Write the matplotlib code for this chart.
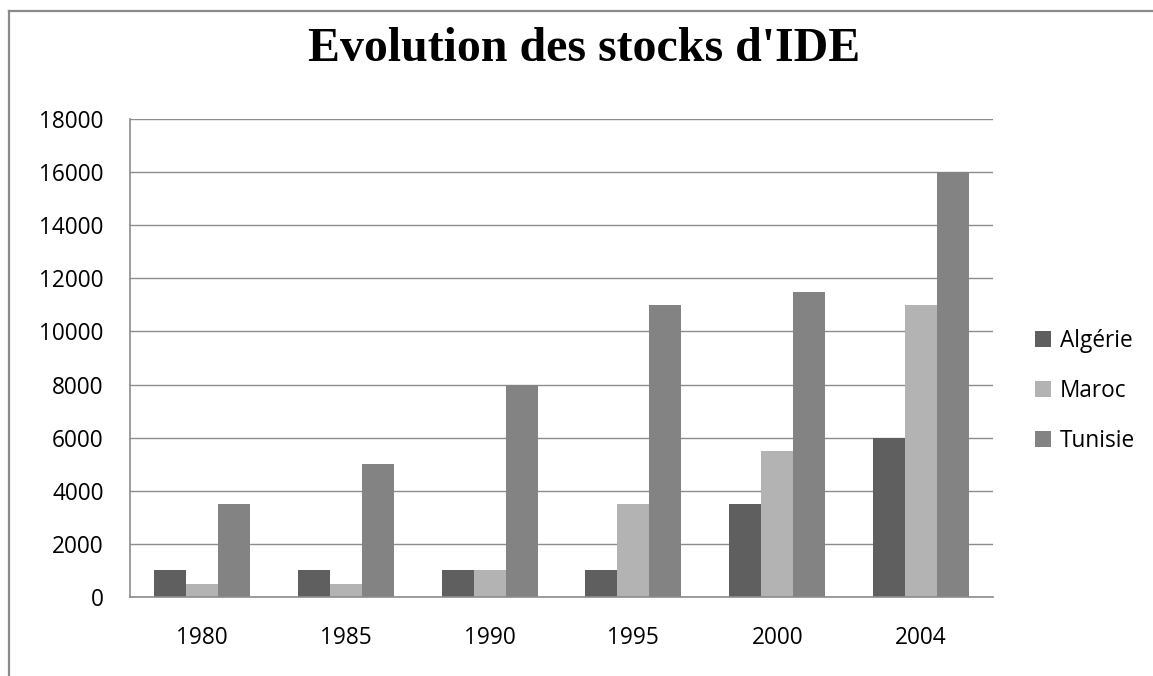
import matplotlib.pyplot as plt
from matplotlib.lines import Line2D
import numpy as np

years = ['1980', '1985', '1990', '1995', '2000', '2004']
algerie = [1000, 1000, 1000, 1000, 3500, 6000]
maroc = [500, 500, 1000, 3500, 5500, 11000]
tunisie = [3500, 5000, 8000, 11000, 11500, 16000]
series = ['Algérie', 'Maroc', 'Tunisie']
colors = ['#5f5f5f', '#b3b3b3', '#838383']

plt.rcParams['font.family'] = ['Open Sans', 'DejaVu Sans']

fig = plt.figure(figsize=(11.53, 6.76), dpi=100)
ax = fig.add_axes([130 / 1153, 79 / 676, 863 / 1153, 478 / 676])

x = np.arange(len(years))
w = 1 / 4.5
for i, (vals, name, c) in enumerate(zip([algerie, maroc, tunisie], series, colors)):
    ax.bar(x + (i - 1) * w, vals, width=w, color=c, label=name, zorder=2)

ax.set_xlim(-0.5, len(years) - 0.5)
ax.set_ylim(0, 18000)
ax.set_yticks(range(0, 18001, 2000))
ax.set_xticks(x)
ax.set_xticklabels(years)
ax.yaxis.grid(True, color='#8c8c8c', linewidth=1)
ax.set_axisbelow(True)
for s in ['top', 'right']:
    ax.spines[s].set_visible(False)
for s in ['left', 'bottom']:
    ax.spines[s].set_color('#8c8c8c')
    ax.spines[s].set_linewidth(1.2)
ax.tick_params(axis='y', length=0, pad=19, labelsize=16.3)
ax.tick_params(axis='x', length=0, pad=21, labelsize=16.3)

fig.text(584 / 1153, 1 - 49 / 676, "Evolution des stocks d'IDE", ha='center', va='center',
         fontsize=34.5, fontweight='bold', family='Liberation Serif')

leg = ax.legend(loc='center left', bbox_to_anchor=(1.025, 0.431), frameon=False,
                fontsize=16.3, handlelength=0.7, handleheight=0.7,
                handletextpad=0.4, labelspacing=1.15)

# outer chart frame (partly cropped)
fig.add_artist(Line2D([9 / 1153, 9 / 1153], [0, 1 - 11 / 676], color='#8a8a8a', linewidth=1.6))
fig.add_artist(Line2D([9 / 1153, 1], [1 - 11 / 676, 1 - 11 / 676], color='#8a8a8a', linewidth=1.6))

fig.savefig('out.png', dpi=100)
